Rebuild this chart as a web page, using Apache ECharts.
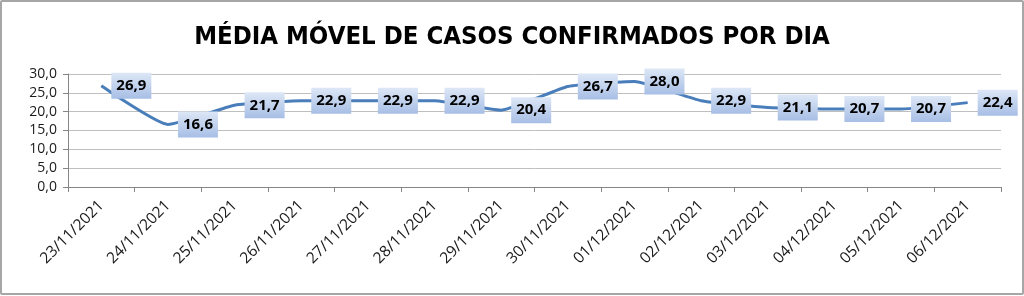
<!DOCTYPE html>
<html>
<head>
<meta charset="utf-8">
<script src="https://cdn.jsdelivr.net/npm/echarts@6/dist/echarts.min.js"></script>
<style>
html,body{margin:0;padding:0;background:#fff;}
#frame{position:absolute;left:0;top:0;width:1020px;height:291px;border:2px solid #a6a6a6;border-radius:2px;background:#fff;}
#chart{position:absolute;left:0;top:0;width:1024px;height:296px;}
</style>
</head>
<body>
<div id="frame"></div>
<div id="chart"></div>
<script>
const title = 'MÉDIA MÓVEL DE CASOS CONFIRMADOS POR DIA';
const categories = ['23/11/2021','24/11/2021','25/11/2021','26/11/2021','27/11/2021','28/11/2021','29/11/2021','30/11/2021','01/12/2021','02/12/2021','03/12/2021','04/12/2021','05/12/2021','06/12/2021'];
const values = [26.9, 16.6, 21.7, 22.9, 22.9, 22.9, 20.4, 26.7, 28.0, 22.9, 21.1, 20.7, 20.7, 22.4];

const fmt = v => v.toFixed(1).replace('.', ',');
const chart = echarts.init(document.getElementById('chart'), null, {renderer:'canvas'});
chart.setOption({
  backgroundColor: 'transparent',
  animation: false,
  title: {
    text: title, left: 'center', top: 19,
    textStyle: {fontFamily: '"DejaVu Sans Condensed","Liberation Sans",sans-serif', fontWeight: 'bold', fontSize: 25.5, color: '#000'}
  },
  grid: {left: 68, right: 23, top: 74, bottom: 109, containLabel: false},
  xAxis: {
    type: 'category', data: categories, boundaryGap: true,
    axisLine: {lineStyle: {color: '#868686', width: 1}},
    axisTick: {show: true, length: 5, lineStyle: {color: '#868686'}},
    axisLabel: {rotate: 45, fontSize: 15.5, color: '#1a1a1a', fontFamily: '"Open Sans","Liberation Sans",sans-serif', margin: 16, interval: 0}
  },
  yAxis: {
    type: 'value', min: 0, max: 30, interval: 5,
    axisLine: {show: true, lineStyle: {color: '#868686'}},
    axisTick: {show: true, length: 5, lineStyle: {color: '#868686'}},
    splitLine: {lineStyle: {color: '#bfbfbf', width: 1}},
    axisLabel: {formatter: v => fmt(v), fontSize: 14, color: '#1a1a1a', fontFamily: '"Open Sans","Liberation Sans",sans-serif', margin: 11}
  },
  series: [{
    type: 'line', data: values, smooth: 0.15, showSymbol: true, symbol: 'circle', symbolSize: 2,
    itemStyle: {color: 'rgba(0,0,0,0)', borderWidth: 0},
    lineStyle: {color: '#4a7ebb', width: 3},
    label: {
      show: true, position: 'right', distance: 9,
      formatter: p => fmt(p.value),
      fontSize: 15, fontWeight: 'bold', color: '#000',
      fontFamily: '"Open Sans","Liberation Sans",sans-serif',
      padding: [6, 5, 5, 5],
      backgroundColor: new echarts.graphic.LinearGradient(0, 0, 0, 1, [
        {offset: 0, color: '#dde7f6'}, {offset: 1, color: '#a7bee5'}
      ])
    }
  }]
});
</script>
</body>
</html>
